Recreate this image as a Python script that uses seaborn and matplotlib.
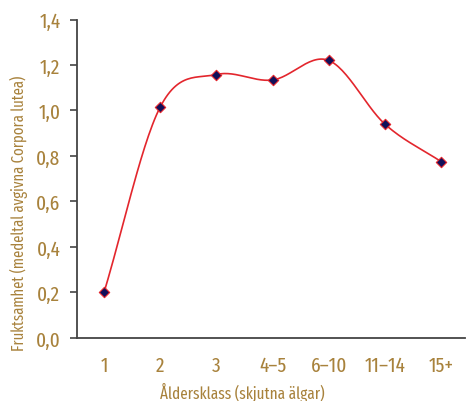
import numpy as np
import pandas as pd
import seaborn as sns
import matplotlib
matplotlib.use("Agg")
import matplotlib.pyplot as plt

categories = ["1", "2", "3", "4\u20135", "6\u201310", "11\u201314", "15+"]
fruktsamhet = [0.20, 1.015, 1.158, 1.134, 1.22, 0.94, 0.775]
y_ticks = [0.0, 0.2, 0.4, 0.6, 0.8, 1.0, 1.2, 1.4]
y_tick_labels = ["0,0", "0,2", "0,4", "0,6", "0,8", "1,0", "1,2", "1,4"]

sns.set_style("white")
plt.rcParams["font.family"] = ["Fira Sans Extra Condensed", "Roboto Condensed", "DejaVu Sans"]
plt.rcParams["font.weight"] = "normal"

txt = "#a8823c"
axc = "#444444"

fig = plt.figure(figsize=(4.67, 4.02), dpi=100)
ax = fig.add_axes([0.165, 0.157, 0.83, 0.792])

x = np.arange(len(categories), dtype=float)
y = np.array(fruktsamhet, dtype=float)

# smooth display curve (Catmull-Rom through the data points)
px = np.concatenate([[2 * x[0] - x[1]], x, [2 * x[-1] - x[-2]]])
py = np.concatenate([[2 * y[0] - y[1]], y, [2 * y[-1] - y[-2]]])
sx, sy = [], []
t = np.linspace(0, 1, 30)
for i in range(1, len(px) - 2):
    p0, p1, p2, p3 = py[i - 1], py[i], py[i + 1], py[i + 2]
    q0, q1, q2, q3 = px[i - 1], px[i], px[i + 1], px[i + 2]
    cy = 0.5 * ((2 * p1) + (-p0 + p2) * t + (2 * p0 - 5 * p1 + 4 * p2 - p3) * t**2 + (-p0 + 3 * p1 - 3 * p2 + p3) * t**3)
    cx = 0.5 * ((2 * q1) + (-q0 + q2) * t + (2 * q0 - 5 * q1 + 4 * q2 - q3) * t**2 + (-q0 + 3 * q1 - 3 * q2 + q3) * t**3)
    sx.extend(cx)
    sy.extend(cy)
curve = pd.DataFrame({"x": sx, "y": sy})
pts = pd.DataFrame({"x": x, "y": y})

sns.lineplot(data=curve, x="x", y="y", ax=ax, color="#e3262d", linewidth=1.2, sort=False)
sns.scatterplot(data=pts, x="x", y="y", ax=ax, marker="D", s=28, color="#10105a",
                edgecolor="#e3262d", linewidth=0.8, zorder=5)

ax.set_xlim(-0.48, 6.42)
ax.set_ylim(0, 1.4)
ax.set_yticks(y_ticks)
ax.set_yticklabels(y_tick_labels)
ax.set_xticks(x)
ax.set_xticklabels(categories)
ax.set_xticks(np.arange(0.5, 6.0, 1.0), minor=True)
ax.tick_params(axis="x", which="major", length=0, pad=12.5, labelsize=15, labelcolor=txt)
ax.tick_params(axis="x", which="minor", length=5, width=1.2, color=axc, direction="out")
ax.tick_params(axis="y", which="major", length=5, width=1.2, color=axc, direction="out",
               labelsize=15, labelcolor=txt, pad=7, left=True)
for s in ["top", "right"]:
    ax.spines[s].set_visible(False)
for s in ["left", "bottom"]:
    ax.spines[s].set_color(axc)
    ax.spines[s].set_linewidth(1.3)

ax.set_xlabel("\u00c5ldersklass (skjutna \u00e4lgar)", color=txt, fontsize=11.8)
ax.set_ylabel("Fruktsamhet (medeltal avgivna Corpora lutea)", color=txt, fontsize=11.5)
ax.xaxis.set_label_coords(0.426, -0.14)
ax.yaxis.set_label_coords(-0.126, 0.393)

fig.savefig("out.png", dpi=100)
